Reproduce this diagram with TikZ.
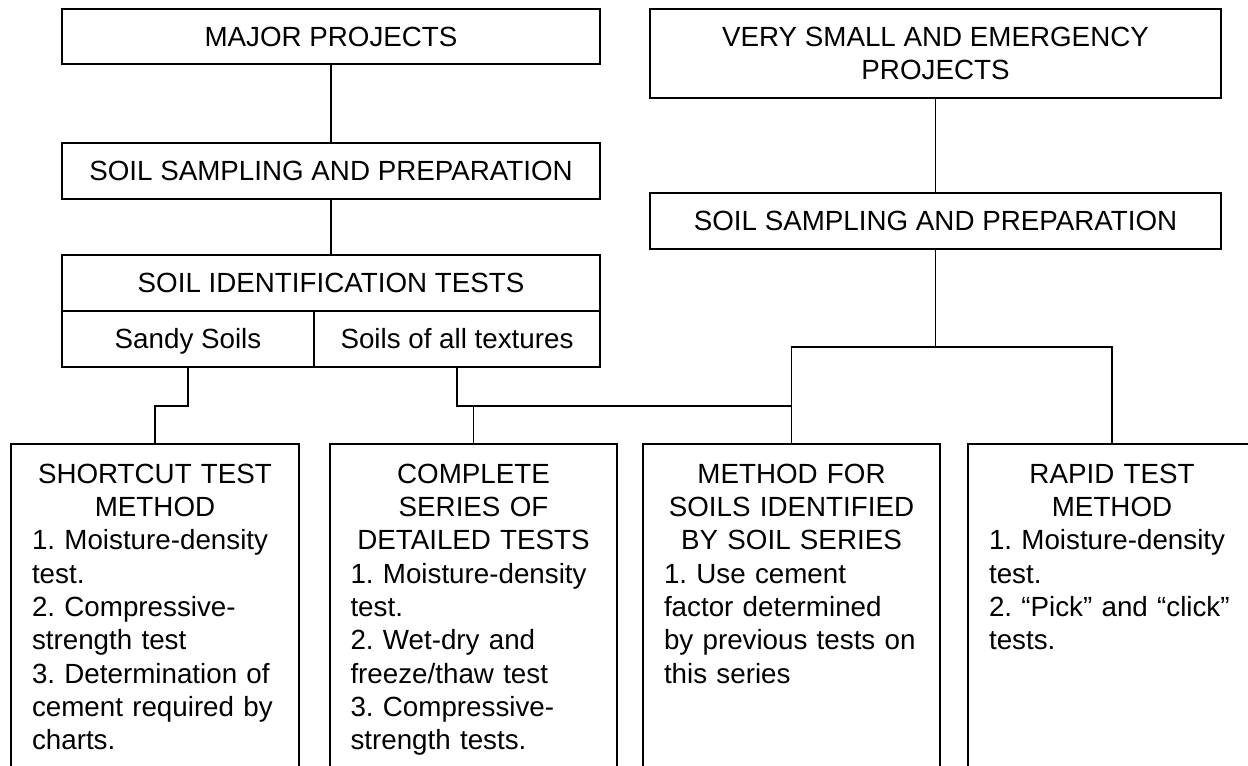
\documentclass[tikz,border=0pt]{standalone}
\usepackage{fontspec}
\setmainfont{Liberation Sans}
\frenchspacing
\begin{document}
\begin{tikzpicture}[
		x = 0.02cm,
		y = -0.02cm,
		line width = 1pt,
		font = \fontsize{15.8}{18.95}\selectfont,
			box/.style = {
				rectangle,
				draw,
				inner sep = 0pt,
				minimum height = 1.12cm,
				text height = 0.4cm,
				text depth = 0cm
			},
			method/.style = {
				anchor = north,
				align = left,
				text width = 4.92cm,
				inner xsep = 0.4cm,
				inner ysep = 0.38cm,
				execute at begin node = \setlength{\parindent}{0pt}
			}
		]
		\useasboundingbox (0,0) rectangle (1248,766);
		\clip (0,0) rectangle (1248,766);
		\node[box, minimum width = 10.76cm, minimum height = 1.1cm] (MP)  at (331,36.5) {MAJOR PROJECTS};
		\node[draw, minimum width = 11.42cm, minimum height = 1.78cm, align = center] (VS) at (935.5,53.5)
			{VERY SMALL AND EMERGENCY\\PROJECTS};
		\node[box, minimum width = 10.76cm] (SSL) at (331,171)   {SOIL SAMPLING AND PREPARATION};
		\node[box, minimum width = 11.42cm] (SSR) at (935.5,221) {SOIL SAMPLING AND PREPARATION};
		\node[box, minimum width = 10.76cm] (SIT) at (331,283)   {SOIL IDENTIFICATION TESTS};
		\node[box, minimum width = 5.04cm]  (SAN) at (188,339)   {Sandy Soils};
		\node[box, minimum width = 5.72cm]  (ALL) at (457,339)   {Soils of all textures};
		\node[method] (SC) at (155,444) {
			{\centering SHORTCUT TEST\\METHOD\par}
			1. Moisture-density\\test.\\2. Compressive-\\strength test\\3. Determination of\\cement required by\\charts.
		};
		\node[method] (CS) at (473.5,444) {
			{\centering COMPLETE\\SERIES OF\\DETAILED TESTS\par}
			1. Moisture-density\\test.\\2. Wet-dry and\\freeze/thaw test\\3. Compressive-\\strength tests.
		};
		\node[method, text width = 5.1cm] (SS) at (791.5,444) {
			{\centering METHOD FOR\\SOILS IDENTIFIED\\BY SOIL SERIES\par}
			1. Use cement\\factor determined\\by previous tests on\\this series
		};
		\node[method] (RT) at (1112,444) {
			{\centering RAPID TEST\\METHOD\par}
			1. Moisture-density\\test.\\2. “Pick” and “click”\\tests.
		};
		\coordinate (bottom) at (0,800);
		\coordinate (BR) at (935.5,347);
		\foreach \m in {SC,CS,SS,RT}
			\draw (\m.north west |- bottom) -- (\m.north west) -- (\m.north east) -- (\m.north east |- bottom);
		\draw (MP) -- (SSL);
		\draw (SSL) -- (SIT);
		\draw (VS) -- (SSR);
		\draw (SSR.south) -- (BR);
		\draw (SS.north) |- (BR) -| (RT.north);
		\draw (SAN.south) -- ++(0,38) -| (SC.north);
		\draw (ALL.south) -- ++(0,38) -| (SS.north);
		\draw (CS.north) -- ++(0,-39);
	\end{tikzpicture}
\end{document}
